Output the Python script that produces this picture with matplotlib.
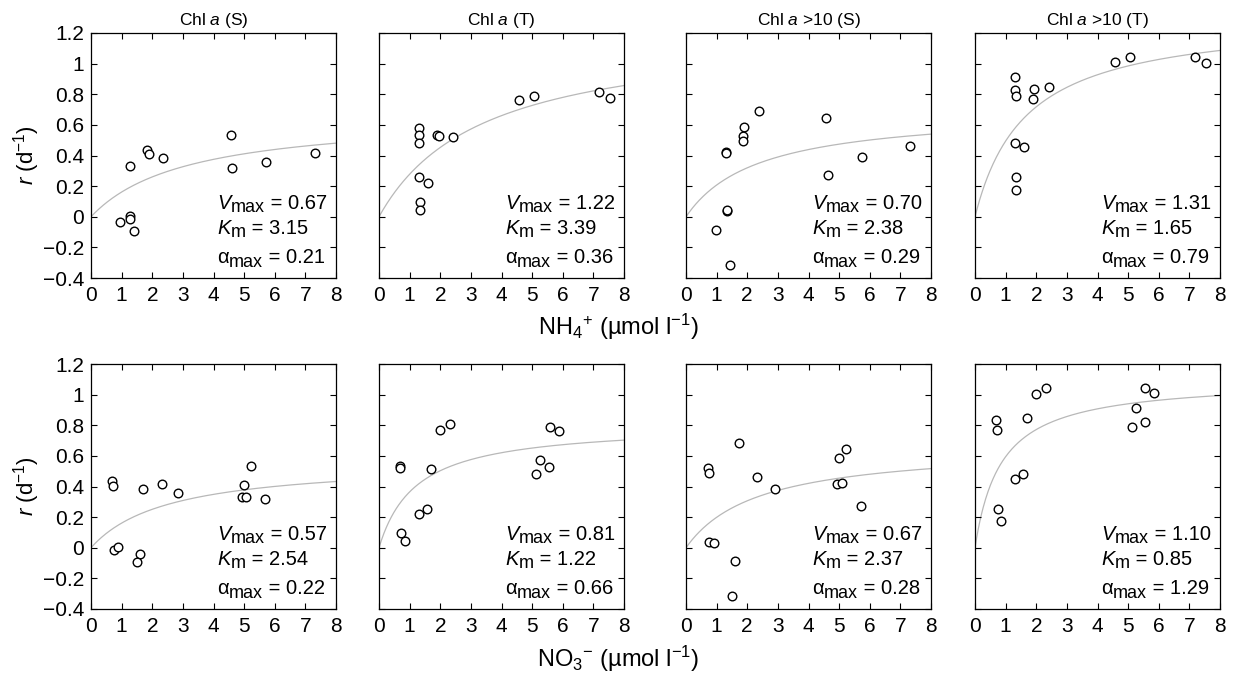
import numpy as np
import matplotlib
matplotlib.use('Agg')
import matplotlib.pyplot as plt
from matplotlib.ticker import FuncFormatter

plt.rcParams['font.family'] = ['Liberation Sans', 'DejaVu Sans']
plt.rcParams['mathtext.fontset'] = 'custom'
plt.rcParams['mathtext.rm'] = 'Liberation Sans'
plt.rcParams['mathtext.it'] = 'Liberation Sans:italic'
plt.rcParams['mathtext.bf'] = 'Liberation Sans:bold'

titles = ['Chl $a$ (S)', 'Chl $a$ (T)', 'Chl $a$ >10 (S)', 'Chl $a$ >10 (T)']

# NH4+ row: (x, r) per panel
nh4_x = [
    [0.96, 1.28, 1.28, 1.39, 1.26, 1.83, 1.88, 2.35, 4.57, 4.62, 5.71, 7.32],
    [1.31, 1.31, 1.31, 1.90, 1.95, 2.40, 1.29, 1.60, 1.33, 1.33, 4.58, 5.05, 7.18, 7.53],
    [0.98, 1.33, 1.33, 1.44, 1.30, 1.30, 1.90, 1.85, 1.87, 2.37, 4.57, 4.65, 5.74, 7.33],
    [1.32, 1.32, 1.35, 1.93, 1.89, 2.42, 1.30, 1.60, 1.35, 1.35, 4.57, 5.07, 7.19, 7.53],
]
nh4_r = [
    [-0.037, 0.007, -0.013, -0.091, 0.329, 0.434, 0.410, 0.384, 0.534, 0.320, 0.357, 0.418],
    [0.577, 0.532, 0.482, 0.532, 0.525, 0.519, 0.257, 0.220, 0.096, 0.042, 0.760, 0.786, 0.813, 0.773],
    [-0.085, 0.037, 0.042, -0.313, 0.421, 0.418, 0.588, 0.525, 0.495, 0.688, 0.645, 0.273, 0.388, 0.462],
    [0.915, 0.826, 0.786, 0.834, 0.769, 0.849, 0.479, 0.455, 0.260, 0.177, 1.011, 1.045, 1.043, 1.004],
]

# NO3- row
no3_x = [
    [0.69, 0.71, 1.70, 2.31, 2.84, 0.74, 0.88, 1.59, 1.50, 5.21, 4.99, 4.94, 5.07, 5.68],
    [0.70, 0.70, 0.73, 0.85, 1.29, 1.56, 1.70, 1.98, 2.31, 5.13, 5.26, 5.56, 5.57, 5.87],
    [0.72, 0.74, 0.76, 0.90, 1.61, 1.51, 1.72, 2.33, 2.89, 5.01, 5.22, 4.94, 5.08, 5.70],
    [0.70, 0.72, 0.75, 0.86, 1.31, 1.56, 1.71, 2.00, 2.31, 5.13, 5.26, 5.56, 5.56, 5.86],
]
no3_r = [
    [0.434, 0.405, 0.381, 0.418, 0.358, -0.013, 0.007, -0.039, -0.091, 0.532, 0.412, 0.329, 0.329, 0.318],
    [0.532, 0.519, 0.096, 0.042, 0.218, 0.251, 0.516, 0.771, 0.810, 0.484, 0.575, 0.529, 0.786, 0.760],
    [0.523, 0.490, 0.037, 0.033, -0.085, -0.313, 0.686, 0.462, 0.386, 0.588, 0.643, 0.416, 0.421, 0.270],
    [0.832, 0.769, 0.255, 0.177, 0.451, 0.479, 0.849, 1.004, 1.041, 0.789, 0.913, 0.824, 1.043, 1.008],
]

nh4_vmax = [0.67, 1.22, 0.70, 1.31]
nh4_km = [3.15, 3.39, 2.38, 1.65]
nh4_alpha = [0.21, 0.36, 0.29, 0.79]
no3_vmax = [0.57, 0.81, 0.67, 1.10]
no3_km = [2.54, 1.22, 2.37, 0.85]
no3_alpha = [0.22, 0.66, 0.28, 1.29]

W, H = 1236, 677
fig = plt.figure(figsize=(W / 100, H / 100), dpi=100)
renderer = fig.canvas.get_renderer()

col_left = [91, 379, 686, 975]
ax_w = 245
row_top = [33, 364]
ax_h = 245


def ytick_fmt(v, pos):
    s = '%g' % round(v, 2)
    return s.replace('-', '\u2212')


def param_label(ax, x, y, head, head_style, sub, tail):
    # head letter, lowered subscript, then "= value", all as plain text
    inv = ax.transAxes.inverted()
    t1 = ax.text(x, y, head, transform=ax.transAxes, fontsize=14.5,
                 style=head_style, va='baseline', ha='left')
    bb = t1.get_window_extent(renderer)
    x1 = inv.transform((bb.x1, bb.y0))[0]
    t2 = ax.text(x1, y - 3.5 / ax_h, sub, transform=ax.transAxes, fontsize=13,
                 va='baseline', ha='left')
    bb = t2.get_window_extent(renderer)
    x2 = inv.transform((bb.x1, bb.y0))[0]
    ax.text(x2, y, tail, transform=ax.transAxes, fontsize=14.5,
            va='baseline', ha='left')


rows = [
    (nh4_x, nh4_r, nh4_vmax, nh4_km, nh4_alpha),
    (no3_x, no3_r, no3_vmax, no3_km, no3_alpha),
]

xs = np.linspace(0, 8, 300)
for ri, (px, pr, vm, km, al) in enumerate(rows):
    for ci in range(4):
        ax = fig.add_axes([col_left[ci] / W, 1 - (row_top[ri] + ax_h) / H, ax_w / W, ax_h / H])
        ax.plot(xs, vm[ci] * xs / (km[ci] + xs), color='#b8b8b8', lw=0.9, zorder=1)
        ax.plot(px[ci], pr[ci], 'o', mfc='white', mec='black', mew=1.0, ms=6.2, zorder=2)
        ax.set_xlim(0, 8)
        ax.set_ylim(-0.4, 1.2)
        ax.set_xticks(range(9))
        ax.set_yticks(np.arange(-0.4, 1.21, 0.2))
        ax.tick_params(direction='in', top=True, right=True, length=4, width=0.8,
                       labelsize=15)
        ax.tick_params(axis='x', pad=6)
        ax.tick_params(axis='y', pad=5)
        ax.yaxis.set_major_formatter(FuncFormatter(ytick_fmt))
        if ci > 0:
            ax.set_yticklabels([])
        for sp in ax.spines.values():
            sp.set_linewidth(0.9)
        if ri == 0:
            ax.set_title(titles[ci], fontsize=12.5, pad=6)
        param_label(ax, 0.515, 0.283, 'V', 'italic', 'max', ' = %.2f' % vm[ci])
        param_label(ax, 0.515, 0.18, 'K', 'italic', 'm', ' = %.2f' % km[ci])
        param_label(ax, 0.515, 0.06, '\u03b1', 'normal', 'max', ' = %.2f' % al[ci])

for ri in range(2):
    yc = 1 - (row_top[ri] + ax_h / 2) / H
    fig.text(27 / W, yc, r'$r$ (d$^{-1}$)', rotation=90,
             fontsize=16, ha='center', va='center')

fig.text(618 / W, 1 - 327 / H, 'NH$_4$$^{+}$ (\u00b5mol l$^{-1}$)',
         fontsize=17, ha='center', va='center')
fig.text(618 / W, 1 - 659 / H, 'NO$_3$$^{-}$ (\u00b5mol l$^{-1}$)',
         fontsize=17, ha='center', va='center')

fig.savefig('out.png', dpi=100)
